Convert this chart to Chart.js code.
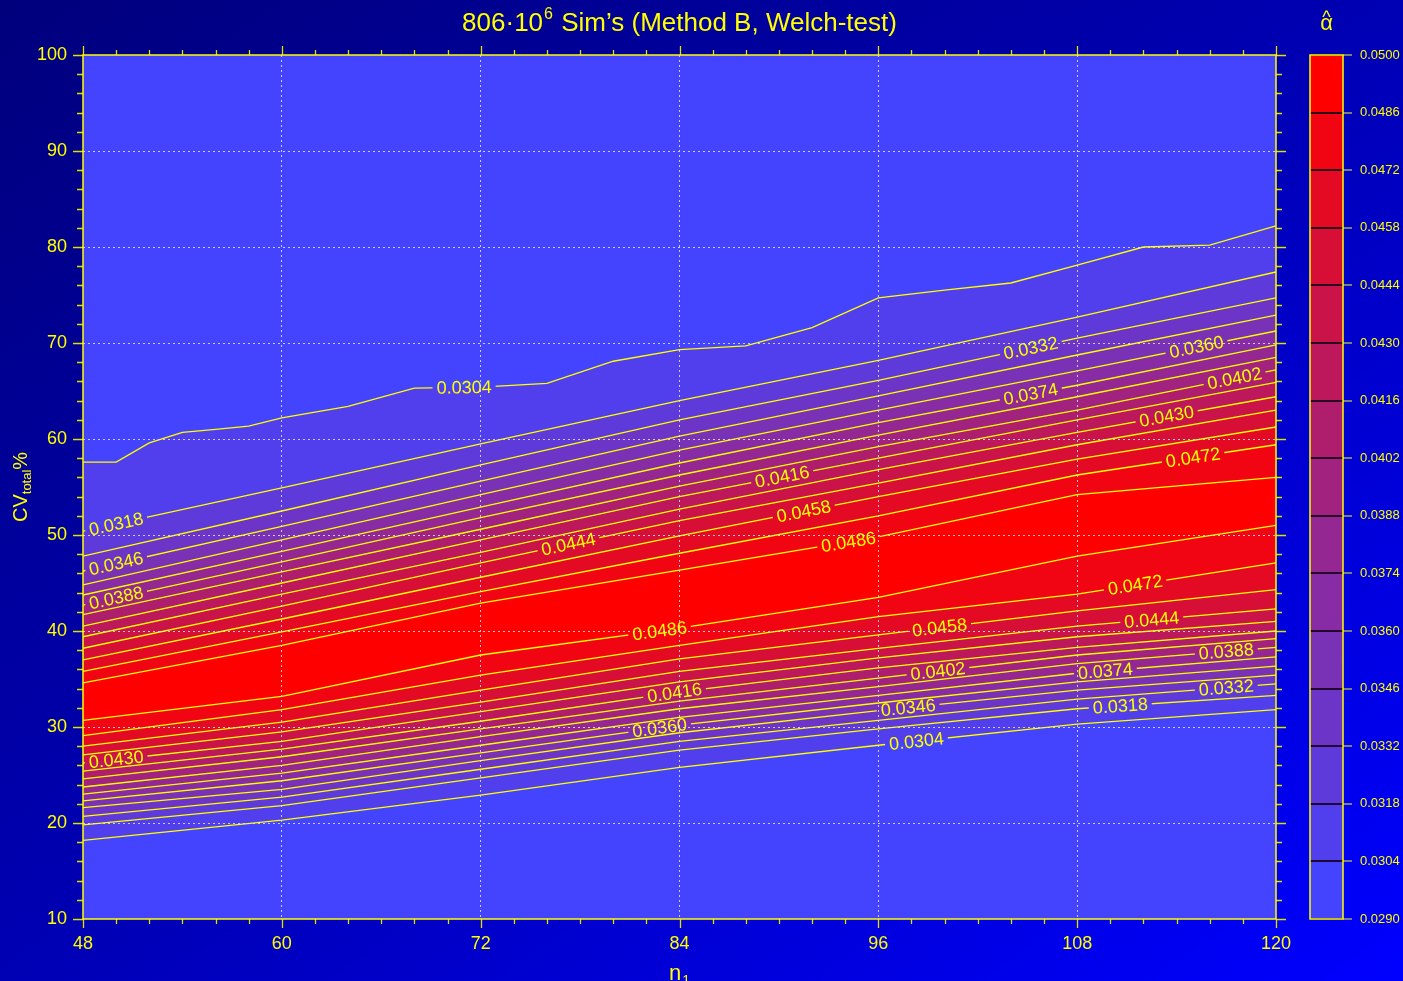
<!DOCTYPE html>
<html>
<head>
<meta charset="utf-8">
<script src="https://cdn.jsdelivr.net/npm/chart.js@4.4.1/dist/chart.umd.min.js"></script>
<style>
  html, body { margin: 0; padding: 0; width: 1403px; height: 981px; overflow: hidden;
    background: linear-gradient(to bottom right, #00007c 0%, #0000b4 50%, #0000ff 100%); }
  #main { position: absolute; left: 0; top: 0; }
  #bar  { position: absolute; left: 1290px; top: 0; }
</style>
</head>
<body>
<canvas id="main" width="1403" height="981"></canvas>
<canvas id="bar" width="113" height="981"></canvas>
<script>
// ---- contour levels of the empirical type I error (alpha-hat) ----
const levels = [0.0304, 0.0318, 0.0332, 0.0346, 0.0360, 0.0374, 0.0388,
                0.0402, 0.0416, 0.0430, 0.0444, 0.0458, 0.0472, 0.0486];
const scaleEdges = [0.0290, 0.0304, 0.0318, 0.0332, 0.0346, 0.0360, 0.0374, 0.0388,
                    0.0402, 0.0416, 0.0430, 0.0444, 0.0458, 0.0472, 0.0486, 0.0500];

// axis ticks
const n1Ticks = [48, 60, 72, 84, 96, 108, 120];
const cvTicks = [10, 20, 30, 40, 50, 60, 70, 80, 90, 100];

// sample sizes at which the contour lines are traced
const n1Grid = [48, 60, 72, 84, 96, 108, 120];

// outermost contour above the ridge (0.0304), traced more finely
const outerN1 = [48, 50, 52, 54, 56, 58, 60, 64, 68, 72, 76, 80, 84, 88, 92, 96, 100, 104, 108, 112, 116, 120];
const outerCV = [57.6, 57.6, 59.6, 60.7, 61.0, 61.35, 62.2, 63.4, 65.3, 65.4, 65.8, 68.1, 69.3, 69.7,
                 71.6, 74.7, 75.5, 76.25, 78.1, 80.0, 80.2, 82.2];

// contours above the ridge, levels 0.0318 ... 0.0486 (CV% at n1Grid)
const upperCV = [
  [50.4, 54.9, 59.5, 64.0, 68.2, 72.7, 77.4],
  [47.8, 52.5, 57.3, 62.0, 66.1, 70.5, 74.7],
  [46.25, 50.9, 55.6, 60.3, 64.5, 68.75, 72.9],
  [44.8, 49.5, 54.2, 58.85, 63.0, 67.1, 71.25],
  [43.75, 48.3, 52.9, 57.5, 61.7, 65.6, 69.8],
  [42.7, 47.2, 51.8, 56.25, 60.4, 64.4, 68.5],
  [41.7, 46.15, 50.6, 55.1, 59.2, 63.0, 67.2],
  [40.5, 45.0, 49.5, 54.0, 58.0, 62.0, 65.9],
  [39.4, 43.85, 48.2, 52.7, 56.8, 60.7, 64.4],
  [38.2, 42.6, 47.1, 51.5, 55.4, 59.4, 63.0],
  [37.0, 41.25, 45.6, 49.9, 54.0, 57.9, 61.25],
  [35.8, 39.9, 44.1, 48.1, 52.0, 56.25, 59.4],
  [34.6, 38.5, 42.9, 46.35, 49.8, 54.2, 56.0]
];

// contours below the ridge, levels 0.0304 ... 0.0486 (CV% at n1Grid)
const lowerCV = [
  [18.2, 20.3, 22.9, 25.8, 28.1, 30.3, 31.8],
  [19.8, 21.8, 24.7, 27.6, 29.8, 31.9, 33.3],
  [20.7, 22.7, 25.6, 28.5, 30.7, 32.9, 34.5],
  [21.6, 23.5, 26.5, 29.4, 31.7, 33.85, 35.4],
  [22.3, 24.4, 27.3, 30.2, 32.5, 34.7, 36.35],
  [23.0, 25.2, 28.1, 31.0, 33.3, 35.6, 37.3],
  [23.75, 26.0, 29.0, 31.9, 34.2, 36.6, 38.3],
  [24.6, 26.9, 29.8, 32.7, 35.1, 37.5, 39.2],
  [25.4, 27.7, 30.6, 33.65, 36.15, 38.3, 40.0],
  [26.25, 28.5, 31.6, 34.7, 37.2, 39.4, 41.0],
  [27.1, 29.5, 32.6, 35.8, 38.2, 40.5, 42.3],
  [28.0, 30.5, 33.85, 37.1, 39.6, 42.1, 44.3],
  [29.1, 31.8, 35.4, 38.5, 41.5, 43.85, 47.1],
  [30.7, 33.2, 37.5, 40.3, 43.5, 47.8, 51.0]
];

// where the level labels sit on their contour: [level, n1]
const upperLabels = [[0.0304, 71.0], [0.0318, 50.0], [0.0346, 50.0], [0.0388, 50.0], [0.0444, 77.3],
                     [0.0416, 90.2], [0.0458, 91.5], [0.0486, 94.2], [0.0332, 105.2], [0.0374, 105.2],
                     [0.0360, 115.2], [0.0402, 117.5], [0.0430, 113.4], [0.0472, 115.0]];
const lowerLabels = [[0.0486, 82.8], [0.0458, 99.7], [0.0472, 111.5], [0.0444, 112.5], [0.0416, 83.7],
                     [0.0402, 99.6], [0.0388, 117.0], [0.0374, 109.7], [0.0360, 82.8], [0.0346, 97.8],
                     [0.0332, 117.0], [0.0318, 110.6], [0.0304, 98.3], [0.0430, 50.0]];

// ---- styling ----
const bandColors = ['#4444ff', '#513fed', '#5f3adb', '#6c35c8', '#7931b6', '#872ca4', '#942792',
                    '#a22280', '#af1d6d', '#bc185b', '#ca1349', '#d70f37', '#e40a24', '#f20512', '#ff0000'];
const FONT = "'Liberation Sans', Arial, Helvetica, sans-serif";
const YELLOW = '#ffff00';
const TICK = '#e0e000';
const GRID = 'rgba(225,225,255,0.85)';
const minorStepN1 = 2, minorStepCV = 2;

Chart.defaults.font.family = FONT;

// ---- assemble contour polylines ----
const contours = [];
contours.push({ level: levels[0], branch: 'upper', n1: outerN1, cv: outerCV });
upperCV.forEach((row, i) => contours.push({ level: levels[i + 1], branch: 'upper', n1: n1Grid, cv: row }));
lowerCV.forEach((row, i) => contours.push({ level: levels[i], branch: 'lower', n1: n1Grid, cv: row }));
contours.forEach(c => { c.points = c.n1.map((x, i) => ({ x, y: c.cv[i] })); });

function bandSet(c, band, rank) {
  return { data: c.points, fill: 'start', backgroundColor: bandColors[band],
           borderColor: 'transparent', borderWidth: 0, pointRadius: 0, order: 1000 - rank };
}

const datasets = [];
let rank = 0;
// above the ridge: outermost first, each band painted down to the axis
contours.filter(c => c.branch === 'upper')
        .forEach(c => datasets.push(bandSet(c, levels.indexOf(c.level) + 1, rank++)));
// below the ridge: innermost first
contours.filter(c => c.branch === 'lower').reverse()
        .forEach(c => datasets.push(bandSet(c, levels.indexOf(c.level), rank++)));
// yellow contour lines on top of the bands
contours.forEach((c, i) => datasets.push({
  data: c.points, fill: false, borderColor: YELLOW, borderWidth: 1.3,
  pointRadius: 0, order: 0, contourIndex: i
}));

const spotList = upperLabels.map(l => ['upper', l[0], l[1]])
  .concat(lowerLabels.map(l => ['lower', l[0], l[1]]));

// pixel position and slope of each level label
function labelSpots(chart) {
  const xs = chart.scales.x, ys = chart.scales.y, ctx = chart.ctx;
  ctx.save();
  ctx.font = '18px ' + FONT;
  const out = spotList.map(([branch, level, n1]) => {
    const ci = contours.findIndex(c => c.branch === branch && c.level === level);
    const d = contours[ci].points;
    let i = 0;
    while (i < d.length - 2 && d[i + 1].x < n1) i++;
    const x0 = xs.getPixelForValue(d[i].x), y0 = ys.getPixelForValue(d[i].y);
    const x1 = xs.getPixelForValue(d[i + 1].x), y1 = ys.getPixelForValue(d[i + 1].y);
    const px = xs.getPixelForValue(n1);
    const t = (px - x0) / (x1 - x0);
    const text = level.toFixed(4);
    return { ci, px, py: y0 + t * (y1 - y0), ang: Math.atan2(y1 - y0, x1 - x0),
             text, w: ctx.measureText(text).width };
  });
  ctx.restore();
  return out;
}

const contourLabels = {
  id: 'contourLabels',
  beforeDatasetDraw(chart, args) {
    const ds = chart.data.datasets[args.index];
    if (ds.contourIndex === undefined) return;
    const ctx = chart.ctx;
    ctx.save();
    ctx.beginPath();
    ctx.rect(0, 0, chart.width, chart.height);
    labelSpots(chart).filter(s => s.ci === ds.contourIndex).forEach(s => {
      const hw = s.w / 2 + 4, hh = 10;
      const c = Math.cos(s.ang), sn = Math.sin(s.ang);
      const pts = [[-hw, -hh], [hw, -hh], [hw, hh], [-hw, hh]]
        .map(([u, v]) => [s.px + u * c - v * sn, s.py + u * sn + v * c]);
      ctx.moveTo(pts[0][0], pts[0][1]);
      for (let k = 1; k < 4; k++) ctx.lineTo(pts[k][0], pts[k][1]);
      ctx.closePath();
    });
    ctx.clip('evenodd');
  },
  afterDatasetDraw(chart, args) {
    const ds = chart.data.datasets[args.index];
    if (ds.contourIndex !== undefined) chart.ctx.restore();
  },
  afterDatasetsDraw(chart) {
    const ctx = chart.ctx;
    ctx.save();
    ctx.font = '18px ' + FONT;
    ctx.fillStyle = YELLOW;
    ctx.textAlign = 'center';
    ctx.textBaseline = 'middle';
    labelSpots(chart).forEach(s => {
      ctx.save();
      ctx.translate(s.px, s.py);
      ctx.rotate(s.ang);
      ctx.fillText(s.text, 0, 1);
      ctx.restore();
    });
    ctx.restore();
  }
};

const plotBackground = {
  id: 'plotBackground',
  beforeDraw(chart) {
    const a = chart.chartArea, ctx = chart.ctx;
    ctx.save();
    ctx.fillStyle = bandColors[0];
    ctx.fillRect(a.left, a.top, a.right - a.left, a.bottom - a.top);
    ctx.restore();
  }
};

const frameAndTitles = {
  id: 'frameAndTitles',
  afterDraw(chart) {
    const a = chart.chartArea, ctx = chart.ctx;
    const xs = chart.scales.x, ys = chart.scales.y;
    ctx.save();
    // ticks on all four sides
    ctx.strokeStyle = TICK;
    ctx.lineWidth = 1.3;
    ctx.beginPath();
    for (let v = xs.min; v <= xs.max + 1e-9; v += minorStepN1) {
      const x = Math.round(xs.getPixelForValue(v)) + 0.5;
      const len = n1Ticks.includes(v) ? 9 : 5;
      ctx.moveTo(x, a.bottom); ctx.lineTo(x, a.bottom + len);
      ctx.moveTo(x, a.top); ctx.lineTo(x, a.top - len);
    }
    for (let v = ys.min; v <= ys.max + 1e-9; v += minorStepCV) {
      const y = Math.round(ys.getPixelForValue(v)) + 0.5;
      const len = cvTicks.includes(v) ? 10 : 6;
      ctx.moveTo(a.left, y); ctx.lineTo(a.left - len, y);
      ctx.moveTo(a.right, y); ctx.lineTo(a.right + len, y);
    }
    ctx.stroke();
    // frame
    ctx.strokeStyle = YELLOW;
    ctx.lineWidth = 1.5;
    ctx.strokeRect(a.left, a.top, a.right - a.left, a.bottom - a.top);

    ctx.fillStyle = YELLOW;
    ctx.textAlign = 'left';
    ctx.textBaseline = 'alphabetic';
    // chart title with superscript exponent
    const big = '26px ' + FONT, sup = '16px ' + FONT;
    const t1 = '806·10', t2 = '6', t3 = ' Sim’s (Method B, Welch-test)';
    ctx.font = big; const w1 = ctx.measureText(t1).width, w3 = ctx.measureText(t3).width;
    ctx.font = sup; const w2 = ctx.measureText(t2).width + 2;
    let x = (a.left + a.right) / 2 - (w1 + w2 + w3) / 2;
    const base = 31;
    ctx.font = big; ctx.fillText(t1, x, base); x += w1;
    ctx.font = sup; ctx.fillText(t2, x + 1, base - 12); x += w2;
    ctx.font = big; ctx.fillText(t3, x, base);

    // y axis title: CV_total %
    ctx.save();
    ctx.translate(27, 522);
    ctx.rotate(-Math.PI / 2);
    let u = 0;
    ctx.font = '20px ' + FONT; ctx.fillText('CV', u, 0); u += ctx.measureText('CV').width;
    ctx.font = '13px ' + FONT; ctx.fillText('total', u, 4); u += ctx.measureText('total').width;
    ctx.font = '20px ' + FONT; ctx.fillText('%', u, 0);
    ctx.restore();

    // x axis title: n_1
    ctx.font = '22px ' + FONT; ctx.fillText('n', 669, 980);
    const nw = ctx.measureText('n').width;
    ctx.font = '14px ' + FONT; ctx.fillText('1', 669 + nw + 1, 985);
    ctx.restore();
  }
};

new Chart(document.getElementById('main'), {
  type: 'line',
  data: { datasets },
  options: {
    responsive: false, animation: false, devicePixelRatio: 1,
    parsing: false, normalized: true,
    layout: { padding: { left: 0, top: 55, right: 1403 - 1276, bottom: 0 } },
    plugins: { legend: { display: false }, tooltip: { enabled: false } },
    elements: { line: { tension: 0 }, point: { radius: 0 } },
    scales: {
      x: {
        type: 'linear', min: 48, max: 120,
        afterFit(s) { s.height = 62; },
        afterBuildTicks(s) { s.ticks = n1Ticks.map(v => ({ value: v })); },
        ticks: { color: YELLOW, font: { size: 18 }, padding: 14, maxRotation: 0, autoSkip: false },
        grid: { z: 1, drawTicks: false, lineWidth: 1,
                color: c => (c.tick && (c.tick.value === 48 || c.tick.value === 120)) ? 'transparent' : GRID },
        border: { display: false, dash: [2, 3] }
      },
      y: {
        type: 'linear', min: 10, max: 100,
        afterFit(s) { s.width = 83; },
        afterBuildTicks(s) { s.ticks = cvTicks.map(v => ({ value: v })); },
        ticks: { color: YELLOW, font: { size: 18 }, padding: 16, autoSkip: false },
        grid: { z: 1, drawTicks: false, lineWidth: 1,
                color: c => (c.tick && (c.tick.value === 10 || c.tick.value === 100)) ? 'transparent' : GRID },
        border: { display: false, dash: [2, 3] }
      }
    }
  },
  plugins: [plotBackground, contourLabels, frameAndTitles]
});

// ---- colour scale ----
const barFrame = {
  id: 'barFrame',
  afterDraw(chart) {
    const a = chart.chartArea, ctx = chart.ctx;
    ctx.save();
    ctx.strokeStyle = YELLOW;
    ctx.lineWidth = 1.5;
    ctx.strokeRect(a.left, a.top, a.right - a.left, a.bottom - a.top);
    ctx.fillStyle = YELLOW;
    ctx.textAlign = 'center';
    ctx.textBaseline = 'alphabetic';
    const cx = (a.left + a.right) / 2;
    ctx.font = '22px ' + FONT; ctx.fillText('α', cx, 30);
    ctx.font = '18px ' + FONT; ctx.fillText('^', cx, 23);
    ctx.restore();
  }
};

new Chart(document.getElementById('bar'), {
  type: 'bar',
  data: {
    labels: ['alpha'],
    datasets: bandColors.map((col, k) => ({
      data: [[scaleEdges[k], scaleEdges[k + 1]]],
      backgroundColor: col, borderWidth: 0,
      barPercentage: 1, categoryPercentage: 1, grouped: false
    }))
  },
  options: {
    responsive: false, animation: false, devicePixelRatio: 1,
    layout: { padding: { left: 20, top: 55, right: 0, bottom: 62 } },
    plugins: { legend: { display: false }, tooltip: { enabled: false } },
    scales: {
      x: { display: false },
      y: {
        position: 'right', min: 0.0290, max: 0.0500,
        afterFit(s) { s.width = 60; },
        afterBuildTicks(s) { s.ticks = scaleEdges.map(v => ({ value: v })); },
        ticks: { color: YELLOW, font: { size: 13 }, padding: 8, autoSkip: false,
                 callback: v => Number(v).toFixed(4) },
        grid: { z: 1, color: 'rgba(25,0,30,0.9)', lineWidth: 2,
                tickColor: '#a8a860', tickLength: 9, tickWidth: 1.5 },
        border: { display: false }
      }
    }
  },
  plugins: [barFrame]
});
</script>
</body>
</html>
